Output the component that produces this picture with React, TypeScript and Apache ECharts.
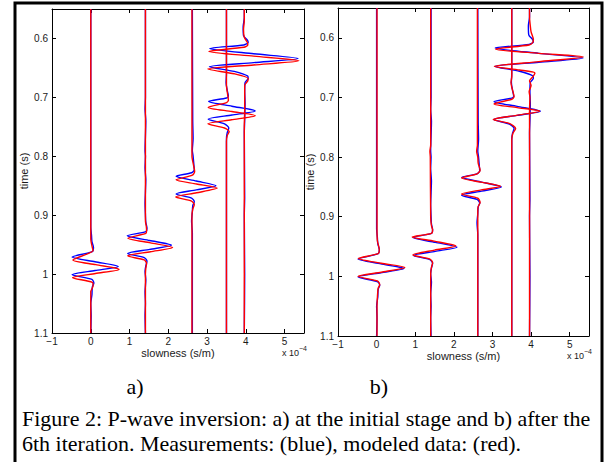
import React, { useEffect, useRef } from "react";
import * as echarts from "echarts";

// tick values
const timeTicks = [0.6, 0.7, 0.8, 0.9, 1, 1.1];
const slownessTicks = [-1, 0, 1, 2, 3, 4, 5];

// Measurements (blue), identical in both panels: [slowness (x1e-4 s/m), time (s)]
const meas0: number[][] = [
  [0, 0.55], [0, 0.92], [0.02, 0.935], [0.03, 0.945], [0.07, 0.955], [0.04, 0.962],
  [-0.48, 0.971], [0.11, 0.979], [0.71, 0.987], [0.11, 0.994], [-0.48, 1.001],
  [0.03, 1.009], [0.08, 1.015], [0.04, 1.022], [0.03, 1.035], [0.0, 1.05], [0.01, 1.07], [0, 1.1],
];
const meas1: number[][] = [
  [1.41, 0.55], [1.41, 0.7], [1.4, 0.72], [1.42, 0.74], [1.4, 0.79], [1.41, 0.8], [1.4, 0.82],
  [1.42, 0.84], [1.41, 0.86], [1.4, 0.88], [1.41, 0.9], [1.42, 0.912], [1.45, 0.922],
  [1.42, 0.928], [0.94, 0.935], [1.52, 0.943], [2.08, 0.951], [1.52, 0.958], [0.95, 0.965],
  [1.38, 0.972], [1.45, 0.978], [1.42, 0.986], [1.4, 0.995], [1.42, 1.01], [1.4, 1.03],
  [1.41, 1.05], [1.4, 1.07], [1.41, 1.1],
];
const meas2: number[][] = [
  [2.62, 0.55], [2.63, 0.74], [2.64, 0.77], [2.62, 0.79], [2.64, 0.8], [2.66, 0.815],
  [2.67, 0.823], [2.6, 0.828], [2.2, 0.834], [2.72, 0.842], [3.23, 0.85], [2.72, 0.857],
  [2.2, 0.864], [2.6, 0.871], [2.67, 0.877], [2.63, 0.884], [2.62, 0.895], [2.6, 0.91],
  [2.62, 0.93], [2.62, 1.1],
];
const meas3: number[][] = [
  [3.5, 0.55], [3.5, 0.66], [3.49, 0.675], [3.52, 0.688], [3.55, 0.698], [3.5, 0.701],
  [3.04, 0.707], [3.64, 0.715], [4.24, 0.723], [3.64, 0.73], [3.03, 0.737], [3.45, 0.745],
  [3.56, 0.752], [3.52, 0.76], [3.5, 0.77], [3.5, 1.1],
];
const meas4: number[][] = [
  [3.96, 0.55], [3.96, 0.565], [3.93, 0.58], [3.94, 0.595], [4.04, 0.603], [4.06, 0.607],
  [3.95, 0.611], [3.07, 0.617], [4.2, 0.626], [5.35, 0.634], [4.2, 0.641], [3.06, 0.648],
  [3.7, 0.656], [4.05, 0.664], [4.06, 0.668], [3.98, 0.675], [3.97, 0.69], [3.98, 0.71],
  [3.97, 0.74], [3.96, 0.76], [3.97, 0.87], [3.96, 0.9], [3.97, 1.0], [3.96, 1.1],
];

// Modeled data (red), panel a: initial stage
const initial0: number[][] = [
  [0, 0.55], [0, 0.94], [0.04, 0.955], [0.06, 0.96], [-0.46, 0.976], [0.13, 0.984],
  [0.73, 0.992], [0.12, 0.999], [-0.47, 1.006], [0.04, 1.014], [0.06, 1.02], [0.0, 1.03], [0, 1.1],
];
const initial1: number[][] = [
  [1.41, 0.55], [1.41, 0.91], [1.43, 0.918], [1.44, 0.926], [1.42, 0.931], [0.96, 0.939],
  [1.54, 0.947], [2.11, 0.955], [1.54, 0.962], [0.95, 0.969], [1.38, 0.976], [1.44, 0.982],
  [1.42, 0.99], [1.41, 1.0], [1.41, 1.1],
];
const initial2: number[][] = [
  [2.61, 0.55], [2.61, 0.8], [2.65, 0.815], [2.68, 0.826], [2.62, 0.832], [2.2, 0.84],
  [2.73, 0.847], [3.26, 0.854], [2.73, 0.862], [2.19, 0.869], [2.6, 0.876], [2.67, 0.882],
  [2.63, 0.89], [2.61, 0.9], [2.61, 1.1],
];
const initial3: number[][] = [
  [3.5, 0.55], [3.5, 0.68], [3.53, 0.695], [3.55, 0.705], [3.5, 0.709], [3.03, 0.717],
  [3.64, 0.724], [4.24, 0.731], [3.63, 0.738], [3.02, 0.745], [3.45, 0.752], [3.57, 0.758],
  [3.52, 0.765], [3.5, 0.775], [3.5, 1.1],
];
const initial4: number[][] = [
  [3.96, 0.55], [3.96, 0.57], [3.94, 0.585], [3.96, 0.598], [4.04, 0.607], [4.05, 0.611],
  [3.95, 0.615], [3.05, 0.622], [4.2, 0.63], [5.37, 0.638], [4.2, 0.645], [3.02, 0.652],
  [3.7, 0.66], [4.06, 0.668], [4.05, 0.672], [3.97, 0.68], [3.97, 0.7], [3.97, 0.72],
  [3.96, 0.75], [3.96, 1.1],
];

// Modeled data (red), panel b: after the 6th iteration
const final0: number[][] = [
  [0.01, 0.55], [0.01, 0.92], [0.02, 0.94], [0.07, 0.956], [0.04, 0.962], [-0.47, 0.97],
  [0.12, 0.978], [0.73, 0.985], [0.12, 0.993], [-0.48, 1.0], [0.03, 1.008], [0.08, 1.014],
  [0.04, 1.02], [0.02, 1.035], [0.01, 1.05], [0.01, 1.1],
];
const final1: number[][] = [
  [1.4, 0.55], [1.4, 0.78], [1.38, 0.79], [1.39, 0.8], [1.4, 0.9], [1.42, 0.915],
  [1.45, 0.922], [1.42, 0.928], [0.92, 0.934], [1.49, 0.941], [2.05, 0.949], [1.5, 0.956],
  [0.94, 0.964], [1.38, 0.971], [1.45, 0.977], [1.42, 0.985], [1.4, 0.995], [1.4, 1.1],
];
const final2: number[][] = [
  [2.61, 0.55], [2.61, 0.78], [2.59, 0.79], [2.62, 0.8], [2.63, 0.81], [2.68, 0.822],
  [2.6, 0.828], [2.2, 0.835], [2.71, 0.842], [3.21, 0.849], [2.71, 0.855], [2.2, 0.862],
  [2.62, 0.869], [2.68, 0.876], [2.63, 0.883], [2.62, 0.892], [2.62, 1.1],
];
const final3: number[][] = [
  [3.5, 0.55], [3.5, 0.665], [3.48, 0.675], [3.5, 0.683], [3.53, 0.69], [3.56, 0.699],
  [3.5, 0.703], [3.04, 0.711], [3.64, 0.717], [4.22, 0.723], [3.62, 0.73], [3.02, 0.737],
  [3.45, 0.744], [3.6, 0.752], [3.53, 0.76], [3.5, 0.77], [3.5, 1.1],
];
const final4: number[][] = [
  [3.96, 0.55], [3.96, 0.565], [3.98, 0.58], [4.0, 0.59], [4.06, 0.603], [4.04, 0.608],
  [3.95, 0.612], [3.08, 0.619], [4.2, 0.626], [5.35, 0.632], [4.2, 0.64], [3.05, 0.648],
  [3.7, 0.654], [4.1, 0.659], [4.05, 0.665], [3.96, 0.672], [4.0, 0.68], [3.95, 0.69],
  [3.97, 0.7], [3.96, 0.72], [3.96, 1.1],
];

const measured = [meas0, meas1, meas2, meas3, meas4];
const modeledInitial = [initial0, initial1, initial2, initial3, initial4];
const modeledFinal = [final0, final1, final2, final3, final4];

const BLUE = "#0000ff";
const RED = "#ff0000";
const SANS = "'Liberation Sans', Arial, Helvetica, sans-serif";
const SERIF = "'Liberation Serif', 'Times New Roman', serif";
const TICK_COLOR = "#1a1a1a";

const grids = [
  { left: 52, top: 9, width: 252, height: 324 },
  { left: 338, top: 8, width: 251, height: 328 },
];

function fmtX(v: number) {
  return v < 0 ? "\u2212" + Math.abs(v) : String(v);
}
function fmtY(v: number) {
  return String(Math.round(v * 10) / 10);
}

function xAxis(grid: number, position: string, labels: boolean) {
  return {
    type: "value",
    gridIndex: grid,
    position,
    min: -1,
    max: 5.5,
    interval: 1,
    axisLine: { show: true, onZero: false, lineStyle: { color: "#000", width: 1 } },
    axisTick: { show: true, inside: true, length: 4, customValues: slownessTicks, lineStyle: { color: "#000", width: 1 } },
    axisLabel: {
      show: labels,
      customValues: slownessTicks,
      formatter: fmtX,
      color: TICK_COLOR,
      fontSize: 10,
      fontFamily: SANS,
      margin: 3,
    },
    splitLine: { show: false },
    name: labels ? "slowness (s/m)" : "",
    nameLocation: "middle",
    nameGap: 14,
    nameMoveOverlap: false,
    nameTextStyle: { color: TICK_COLOR, fontSize: 11, fontFamily: SANS },
  };
}

function yAxis(grid: number, position: string, labels: boolean) {
  return {
    type: "value",
    gridIndex: grid,
    position,
    min: 0.55,
    max: 1.1,
    inverse: true,
    axisLine: { show: true, onZero: false, lineStyle: { color: "#000", width: 1 } },
    axisTick: { show: true, inside: true, length: 4, customValues: timeTicks, lineStyle: { color: "#000", width: 1 } },
    axisLabel: {
      show: labels,
      customValues: timeTicks,
      formatter: fmtY,
      color: TICK_COLOR,
      fontSize: 10,
      fontFamily: SANS,
      margin: 4,
    },
    splitLine: { show: false },
    name: labels ? "time (s)" : "",
    nameLocation: "middle",
    nameGap: 23,
    nameMoveOverlap: false,
    nameTextStyle: { color: TICK_COLOR, fontSize: 11, fontFamily: SANS },
  };
}

function traceSeries(data: number[][], color: string, grid: number) {
  return {
    type: "line",
    data,
    xAxisIndex: grid,
    yAxisIndex: grid,
    showSymbol: false,
    symbol: "none",
    smooth: 0.25,
    silent: true,
    lineStyle: { color, width: 1.4 },
  };
}

export default function App() {
  const ref = useRef<HTMLDivElement>(null);
  useEffect(() => {
    if (!ref.current) return;
    const chart = echarts.init(ref.current, undefined, { renderer: "svg" });
    const series: any[] = [];
    measured.forEach((d) => series.push(traceSeries(d, BLUE, 0)));
    measured.forEach((d) => series.push(traceSeries(d, BLUE, 1)));
    modeledInitial.forEach((d) => series.push(traceSeries(d, RED, 0)));
    modeledFinal.forEach((d) => series.push(traceSeries(d, RED, 1)));

    const option: any = {
      animation: false,
      backgroundColor: "#ffffff",
      grid: grids.map((g) => ({ ...g, containLabel: false })),
      xAxis: [xAxis(0, "bottom", true), xAxis(1, "bottom", true), xAxis(0, "top", false), xAxis(1, "top", false)],
      yAxis: [yAxis(0, "left", true), yAxis(1, "left", true), yAxis(0, "right", false), yAxis(1, "right", false)],
      series,
      graphic: [
        {
          type: "rect",
          shape: { x: 15, y: 3, width: 587, height: 500 },
          style: { fill: "none", stroke: "#000", lineWidth: 3 },
          silent: true,
        },
        { type: "text", x: 282, y: 353, style: { text: "x 10", font: `9px ${SANS}`, fill: TICK_COLOR, verticalAlign: "middle" } },
        { type: "text", x: 299, y: 348, style: { text: "\u22124", font: `7px ${SANS}`, fill: TICK_COLOR, verticalAlign: "middle" } },
        { type: "text", x: 567, y: 356, style: { text: "x 10", font: `9px ${SANS}`, fill: TICK_COLOR, verticalAlign: "middle" } },
        { type: "text", x: 584, y: 351, style: { text: "\u22124", font: `7px ${SANS}`, fill: TICK_COLOR, verticalAlign: "middle" } },
        { type: "text", x: 135, y: 386, style: { text: "a)", font: `22px ${SERIF}`, fill: "#000", align: "center", verticalAlign: "middle" } },
        { type: "text", x: 379, y: 386, style: { text: "b)", font: `22px ${SERIF}`, fill: "#000", align: "center", verticalAlign: "middle" } },
        {
          type: "text",
          x: 22,
          y: 418.5,
          style: {
            text: "Figure 2: P-wave inversion: a) at the initial stage and b) after the",
            font: `22px ${SERIF}`,
            fill: "#000",
            verticalAlign: "middle",
          },
        },
        {
          type: "text",
          x: 22,
          y: 443.5,
          style: {
            text: "6th iteration. Measurements: (blue), modeled data: (red).",
            font: `22px ${SERIF}`,
            fill: "#000",
            verticalAlign: "middle",
          },
        },
      ],
    };
    chart.setOption(option);
    return () => chart.dispose();
  }, []);
  return (
    <div
      ref={ref}
      style={{ position: "fixed", left: 0, top: 0, width: 605, height: 462, background: "#fff" }}
    />
  );
}
